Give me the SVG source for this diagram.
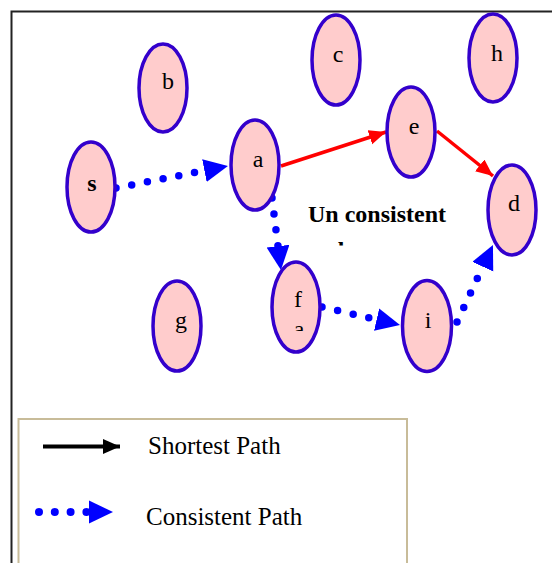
<svg xmlns="http://www.w3.org/2000/svg" width="552" height="563" viewBox="0 0 552 563">
  <style>
    .node { fill: #ffcccc; stroke: #3300cc; stroke-width: 3.5; }
    .lbl { font-family: "Liberation Serif", "Times New Roman", serif; font-size: 24px; fill: #000; text-anchor: middle; }
    .bold { font-weight: bold; }
    .red { stroke: #ff0000; stroke-width: 3.5; fill: none; marker-end: url(#redHead); }
    .dots { stroke: #0000ff; stroke-width: 7.5; stroke-linecap: round; stroke-dasharray: 0 16; fill: none; marker-end: url(#blueHead); }
    .legtxt { font-family: "Liberation Serif", "Times New Roman", serif; font-size: 25px; fill: #000; }
  </style>
  <defs>
    <marker id="redHead" markerUnits="userSpaceOnUse" markerWidth="18" markerHeight="16" refX="17" refY="7.5" orient="auto">
      <path d="M0,0 L17,7.5 L0,15 z" fill="#ff0000"/>
    </marker>
    <marker id="blueHead" markerUnits="userSpaceOnUse" markerWidth="26" markerHeight="24" refX="0" refY="11.5" orient="auto">
      <path d="M0,0 L24,11.5 L0,23 z" fill="#0000ff"/>
    </marker>
    <marker id="blackHead" markerUnits="userSpaceOnUse" markerWidth="18" markerHeight="16" refX="17" refY="7.5" orient="auto">
      <path d="M0,0 L17,7.5 L0,15 z" fill="#000"/>
    </marker>
    <clipPath id="clipF"><rect x="280" y="318" width="40" height="13"/></clipPath>
    <clipPath id="clipUn"><rect x="300" y="230" width="150" height="15.5"/></clipPath>
  </defs>
  <rect width="552" height="563" fill="#fff"/>
  <rect x="11.5" y="11.5" width="560" height="580" fill="none" stroke="#222" stroke-width="2"/>

  <g id="connectors">
    <path class="red" d="M281,166 L386,132"/>
    <path class="red" d="M437,131 L493,176"/>
    <path class="dots" d="M116,188 L204.4,170.6"/>
    <path class="dots" d="M272,198 L278,246.2"/>
    <path class="dots" d="M322,307 L376.6,319.6"/>
    <path class="dots" d="M457,322 L482.8,266.7"/>
  </g>

  <g id="node-s"><ellipse class="node" cx="91" cy="187" rx="24" ry="45"/><text class="lbl bold" x="92" y="191">s</text></g>
  <g id="node-b"><ellipse class="node" cx="163" cy="88" rx="24" ry="44"/><text class="lbl" x="168" y="89">b</text></g>
  <g id="node-a"><ellipse class="node" cx="255" cy="165" rx="24" ry="45"/><text class="lbl" x="258" y="167">a</text></g>
  <g id="node-c"><ellipse class="node" cx="336" cy="60" rx="24" ry="45"/><text class="lbl" x="338" y="62">c</text></g>
  <g id="node-h"><ellipse class="node" cx="493" cy="58" rx="24" ry="44"/><text class="lbl" x="497" y="61">h</text></g>
  <g id="node-e"><ellipse class="node" cx="411" cy="132" rx="24" ry="45"/><text class="lbl" x="414" y="134">e</text></g>
  <g id="node-d"><ellipse class="node" cx="512" cy="210" rx="24" ry="45"/><text class="lbl" x="514" y="211">d</text></g>
  <g id="node-g"><ellipse class="node" cx="177" cy="326" rx="24" ry="45"/><text class="lbl" x="181" y="328">g</text></g>
  <g id="node-f"><ellipse class="node" cx="296" cy="307" rx="24" ry="45"/><text class="lbl" x="298" y="307">f</text><text class="lbl" x="299" y="337" clip-path="url(#clipF)">a</text></g>
  <g id="node-i"><ellipse class="node" cx="427" cy="326" rx="24.5" ry="45.5"/><text class="lbl" x="428" y="328">i</text></g>

  <g id="label-unconsistent">
    <text class="lbl bold" x="308" y="222" style="text-anchor:start">Un consistent</text>
    <text class="lbl bold" x="341" y="258" clip-path="url(#clipUn)">l</text>
  </g>

  <g id="legend">
    <rect x="18.5" y="419" width="388.5" height="170" fill="none" stroke="#c8bc99" stroke-width="2"/>
    <path d="M43,446.5 L120,446.5" stroke="#000" stroke-width="4" fill="none" marker-end="url(#blackHead)"/>
    <text class="legtxt" x="148" y="454">Shortest Path</text>
    <path d="M39,512 L89,512" stroke="#0000ff" stroke-width="8" stroke-linecap="round" stroke-dasharray="0 15.8" fill="none"/>
    <path d="M89,500.5 L113,512 L89,523.5 z" fill="#0000ff"/>
    <text class="legtxt" x="146" y="525">Consistent Path</text>
  </g>
</svg>
